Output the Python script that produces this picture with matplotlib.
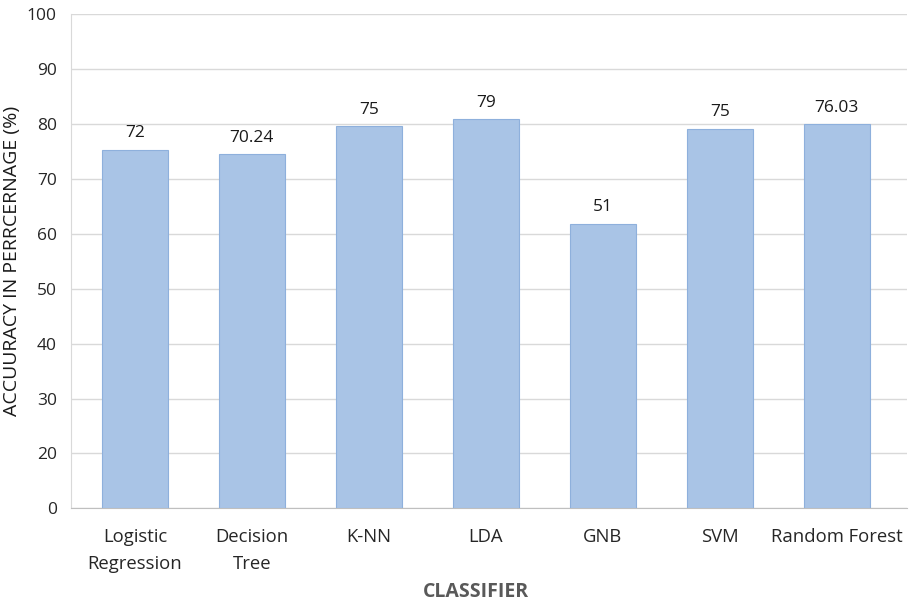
import numpy as np
import matplotlib
matplotlib.use("Agg")
import matplotlib.pyplot as plt

# classifier accuracy chart
classifiers = ["Logistic\nRegression", "Decision\nTree", "K-NN", "LDA",
               "GNB", "SVM", "Random Forest"]
bar_heights = [75.3, 74.5, 79.6, 80.8, 61.8, 79.1, 79.9]
bar_labels = ["72", "70.24", "75", "79", "51", "75", "76.03"]
tick_values = [0, 20, 30, 40, 50, 60, 70, 80, 90, 100]

plt.rcParams['font.family'] = ['Open Sans', 'DejaVu Sans']

# tick labels in the original are evenly spaced (10 is missing)
tick_pos = np.arange(len(tick_values))


def forward(v):
    return np.interp(v, tick_values, tick_pos)


def inverse(p):
    return np.interp(p, tick_pos, tick_values)


fig = plt.figure(figsize=(9.13, 6.01), dpi=100)
ax = fig.add_axes([0.0774, 0.154, 0.9156, 0.823])
ax.set_yscale('function', functions=(forward, inverse))

x = np.arange(len(classifiers))
ax.bar(x, bar_heights, width=0.565, color='#A9C4E6', edgecolor='#8EB0DC',
       linewidth=0.8, zorder=3)

for xi, h, lab in zip(x, bar_heights, bar_labels):
    ax.annotate(lab, (xi, h), xytext=(0, 6), textcoords='offset points',
                ha='center', va='bottom', fontsize=12.5, color='#1a1a1a')

ax.set_ylim(0, 100)
ax.set_xlim(-0.549, 6.597)
ax.set_yticks(tick_values)
ax.set_yticklabels([str(v) for v in tick_values])
ax.set_xticks(x)
ax.set_xticklabels(classifiers, linespacing=1.65)
ax.tick_params(axis='both', length=0, labelsize=12.5, labelcolor='#262626')
ax.tick_params(axis='x', pad=14, labelsize=13.3)
ax.tick_params(axis='y', pad=10)

ax.yaxis.grid(True, color='#D9D9D9', linewidth=1, zorder=0)
ax.set_axisbelow(True)
for side in ['top', 'right']:
    ax.spines[side].set_visible(False)
ax.spines['left'].set_color('#D9D9D9')
ax.spines['bottom'].set_color('#BFBFBF')

ax.set_ylabel("ACCUURACY IN PERRCERNAGE (%)", fontsize=14, color='#1a1a1a',
              labelpad=4)
ax.set_xlabel("CLASSIFIER", fontsize=14, fontweight='bold', color='#595959')
ax.xaxis.set_label_coords(0.485, -0.148)

fig.savefig("out.png", dpi=100)
